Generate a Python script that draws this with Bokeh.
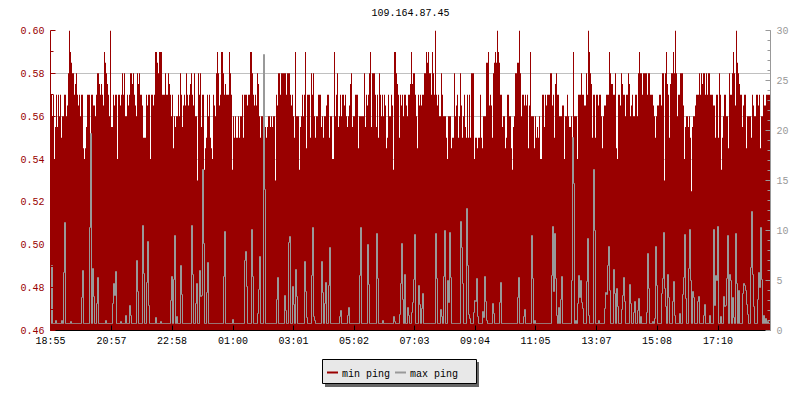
from datetime import datetime, timedelta
from bokeh.plotting import figure
from bokeh.layouts import column
from bokeh.models import (ColumnDataSource, Range1d, LinearAxis, FixedTicker,
                          DatetimeTickFormatter, PrintfTickFormatter)
from bokeh.core.properties import value
from bokeh.embed import file_html
from bokeh.resources import INLINE

chart_title = "109.164.87.45"
first_sample = "2013-06-01 18:55"
sample_step_minutes = 2
tick_labels = ["18:55", "20:57", "22:58", "01:00", "03:01", "05:02",
               "07:03", "09:04", "11:05", "13:07", "15:08", "17:10"]
left_ticks = [0.46, 0.48, 0.50, 0.52, 0.54, 0.56, 0.58, 0.60]
right_ticks = [0, 5, 10, 15, 20, 25, 30]
series_names = ["min ping", "max ping"]

# min ping (ms, left axis), one value per 2-minute sample
min_ping_a = [
    0.57, 0.57, 0.56, 0.57, 0.54, 0.555, 0.57, 0.555, 0.57, 0.56,
    0.57, 0.55, 0.56, 0.56, 0.57, 0.57, 0.56, 0.565, 0.58, 0.60,
    0.59, 0.585, 0.58, 0.58, 0.57, 0.575, 0.58, 0.57, 0.565, 0.57,
    0.56, 0.57, 0.57, 0.545, 0.54, 0.545, 0.555, 0.57, 0.57, 0.57,
    0.55, 0.57, 0.57, 0.565, 0.565, 0.56, 0.57, 0.58, 0.58, 0.575,
    0.57, 0.575, 0.57, 0.565, 0.59, 0.585, 0.58, 0.575, 0.57, 0.56,
    0.60, 0.555, 0.555, 0.57, 0.565, 0.57, 0.57, 0.54, 0.57, 0.57,
    0.565, 0.57, 0.58, 0.57, 0.58, 0.56, 0.56, 0.57, 0.565, 0.57,
    0.58, 0.58, 0.575, 0.58, 0.57, 0.565, 0.56, 0.58, 0.575, 0.58,
    0.57, 0.57, 0.565, 0.55, 0.55, 0.55, 0.57, 0.565, 0.57, 0.57,
    0.54, 0.57, 0.57, 0.565, 0.57, 0.59, 0.59, 0.585, 0.58, 0.59,
    0.59, 0.59, 0.57, 0.57, 0.57, 0.58, 0.57, 0.57, 0.58, 0.575,
]
min_ping_b = [
    0.57, 0.56, 0.57, 0.545, 0.56, 0.555, 0.56, 0.56, 0.57, 0.56,
    0.58, 0.57, 0.555, 0.565, 0.57, 0.565, 0.58, 0.57, 0.565, 0.57,
    0.575, 0.58, 0.57, 0.565, 0.58, 0.56, 0.56, 0.53, 0.58, 0.57,
    0.58, 0.555, 0.57, 0.57, 0.535, 0.545, 0.55, 0.57, 0.56, 0.57,
    0.55, 0.545, 0.54, 0.57, 0.565, 0.56, 0.58, 0.59, 0.58, 0.565,
    0.57, 0.59, 0.59, 0.58, 0.57, 0.575, 0.57, 0.57, 0.57, 0.59,
    0.58, 0.57, 0.535, 0.56, 0.55, 0.56, 0.55, 0.55, 0.56, 0.55,
    0.56, 0.56, 0.57, 0.55, 0.57, 0.57, 0.57, 0.565, 0.57, 0.57,
    0.59, 0.59, 0.58, 0.57, 0.565, 0.57, 0.565, 0.58, 0.575, 0.56,
    0.55, 0.56, 0.56, 0.55, 0.56, 0.555, 0.55, 0.555, 0.56, 0.56,
    0.555, 0.56, 0.555, 0.56, 0.56, 0.53, 0.57, 0.565, 0.58, 0.58,
    0.57, 0.58, 0.58, 0.58, 0.58, 0.58, 0.57, 0.58, 0.58, 0.58,
]
min_ping_c = [
    0.57, 0.565, 0.57, 0.56, 0.55, 0.59, 0.56, 0.56, 0.56, 0.535,
    0.555, 0.56, 0.57, 0.56, 0.57, 0.59, 0.545, 0.57, 0.57, 0.57,
    0.55, 0.58, 0.57, 0.58, 0.56, 0.55, 0.56, 0.56, 0.57, 0.57,
    0.57, 0.555, 0.56, 0.55, 0.56, 0.56, 0.565, 0.57, 0.57, 0.55,
    0.56, 0.56, 0.54, 0.54, 0.59, 0.56, 0.57, 0.58, 0.555, 0.56,
    0.57, 0.56, 0.57, 0.57, 0.565, 0.57, 0.56, 0.555, 0.56, 0.565,
    0.575, 0.58, 0.555, 0.56, 0.56, 0.57, 0.57, 0.57, 0.545, 0.56,
    0.56, 0.56, 0.56, 0.56, 0.58, 0.555, 0.57, 0.565, 0.57, 0.58,
    0.59, 0.555, 0.58, 0.58, 0.58, 0.57, 0.555, 0.57, 0.55, 0.58,
    0.57, 0.56, 0.57, 0.56, 0.57, 0.565, 0.545, 0.55, 0.57, 0.56,
    0.56, 0.57, 0.565, 0.535, 0.59, 0.59, 0.58, 0.575, 0.57, 0.55,
    0.57, 0.565, 0.57, 0.56, 0.57, 0.57, 0.565, 0.56, 0.57, 0.57,
]
min_ping_d = [
    0.575, 0.59, 0.575, 0.58, 0.58, 0.57, 0.56, 0.545, 0.57, 0.565,
    0.57, 0.565, 0.57, 0.57, 0.58, 0.58, 0.59, 0.585, 0.59, 0.58,
    0.58, 0.57, 0.59, 0.58, 0.57, 0.60, 0.57, 0.565, 0.57, 0.56,
    0.56, 0.58, 0.57, 0.56, 0.56, 0.56, 0.55, 0.54, 0.56, 0.56,
    0.56, 0.545, 0.55, 0.55, 0.58, 0.56, 0.565, 0.57, 0.55, 0.56,
    0.58, 0.565, 0.55, 0.56, 0.57, 0.555, 0.55, 0.57, 0.55, 0.57,
    0.55, 0.58, 0.58, 0.58, 0.54, 0.55, 0.55, 0.545, 0.55, 0.55,
    0.57, 0.55, 0.545, 0.56, 0.56, 0.56, 0.585, 0.585, 0.59, 0.565,
    0.57, 0.565, 0.55, 0.58, 0.585, 0.59, 0.585, 0.60, 0.59, 0.585,
    0.57, 0.57, 0.555, 0.56, 0.56, 0.545, 0.55, 0.57, 0.57, 0.56,
    0.56, 0.545, 0.535, 0.555, 0.56, 0.58, 0.58, 0.585, 0.585, 0.60,
    0.58, 0.56, 0.57, 0.57, 0.565, 0.57, 0.565, 0.57, 0.545, 0.565,
]
min_ping_e = [
    0.59, 0.56, 0.56, 0.56, 0.545, 0.56, 0.55, 0.555, 0.55, 0.56,
    0.54, 0.54, 0.57, 0.57, 0.555, 0.57, 0.565, 0.57, 0.57, 0.57,
    0.58, 0.58, 0.565, 0.57, 0.55, 0.575, 0.58, 0.57, 0.57, 0.56,
    0.56, 0.56, 0.565, 0.565, 0.54, 0.56, 0.56, 0.57, 0.56, 0.555,
    0.555, 0.56, 0.55, 0.59, 0.56, 0.56, 0.56, 0.54, 0.57, 0.57,
    0.57, 0.58, 0.57, 0.57, 0.565, 0.565, 0.58, 0.57, 0.60, 0.59,
    0.58, 0.575, 0.55, 0.57, 0.57, 0.55, 0.57, 0.57, 0.565, 0.57,
    0.57, 0.56, 0.545, 0.56, 0.565, 0.565, 0.57, 0.57, 0.57, 0.59,
    0.58, 0.575, 0.575, 0.57, 0.57, 0.58, 0.545, 0.54, 0.57, 0.57,
    0.565, 0.58, 0.575, 0.57, 0.57, 0.56, 0.57, 0.57, 0.58, 0.575,
    0.56, 0.565, 0.57, 0.56, 0.56, 0.57, 0.57, 0.56, 0.58, 0.59,
    0.58, 0.58, 0.57, 0.58, 0.58, 0.58, 0.58, 0.57, 0.58, 0.58,
]
min_ping_f = [
    0.57, 0.57, 0.57, 0.565, 0.56, 0.55, 0.56, 0.565, 0.565, 0.57,
    0.57, 0.565, 0.58, 0.58, 0.53, 0.58, 0.59, 0.575, 0.57, 0.55,
    0.575, 0.58, 0.58, 0.59, 0.58, 0.60, 0.58, 0.56, 0.57, 0.57,
    0.58, 0.58, 0.58, 0.565, 0.54, 0.555, 0.56, 0.56, 0.555, 0.56,
    0.55, 0.525, 0.555, 0.56, 0.56, 0.565, 0.57, 0.57, 0.57, 0.58,
    0.57, 0.58, 0.575, 0.58, 0.58, 0.57, 0.58, 0.57, 0.58, 0.58,
    0.57, 0.57, 0.57, 0.565, 0.565, 0.55, 0.57, 0.57, 0.55, 0.58,
    0.57, 0.535, 0.55, 0.56, 0.57, 0.57, 0.56, 0.56, 0.545, 0.58,
    0.57, 0.57, 0.58, 0.59, 0.58, 0.565, 0.60, 0.585, 0.58, 0.575,
    0.57, 0.57, 0.555, 0.565, 0.57, 0.57, 0.545, 0.56, 0.56, 0.56,
    0.56, 0.55, 0.57, 0.565, 0.56, 0.56, 0.57, 0.57, 0.565, 0.57,
    0.545, 0.56, 0.56, 0.57, 0.565, 0.565, 0.57, 0.57, 0.57, 0.57,
]

# max ping (ms, right axis)
max_ping_a = [
    0.7, 6.5, 0.7, 0.7, 0.7, 1.0, 0.7, 0.7, 0.7, 0.7,
    0.7, 1.0, 0.7, 5.8, 10.8, 0.7, 0.7, 0.7, 0.7, 0.7,
    0.9, 0.7, 0.7, 0.7, 0.7, 0.7, 0.7, 0.7, 0.7, 0.7,
    0.7, 3.3, 6.0, 0.7, 0.7, 0.7, 0.7, 0.7, 0.7, 10.3,
    19.7, 0.7, 6.2, 3.4, 0.7, 0.7, 2.7, 5.3, 0.7, 0.7,
    0.7, 0.7, 0.7, 0.7, 0.7, 1.0, 0.7, 0.7, 0.7, 0.7,
    0.7, 0.7, 2.7, 4.7, 3.5, 5.9, 0.7, 0.7, 0.7, 0.7,
    0.9, 0.7, 0.7, 0.7, 0.7, 1.5, 0.7, 0.7, 0.7, 2.5,
    1.5, 0.7, 0.7, 0.7, 0.7, 0.7, 7.0, 3.9, 0.7, 0.7,
    0.7, 0.7, 10.5, 5.7, 0.7, 0.7, 4.8, 8.9, 2.5, 0.7,
    0.7, 0.7, 0.7, 0.7, 0.7, 1.3, 0.7, 0.7, 0.7, 0.7,
    0.9, 0.7, 0.7, 0.7, 0.7, 0.7, 0.7, 0.7, 0.7, 0.7,
]
max_ping_b = [
    3.0, 5.4, 0.7, 5.1, 9.5, 0.7, 1.4, 0.7, 0.7, 0.7,
    6.5, 3.6, 0.7, 0.7, 0.7, 0.7, 0.7, 0.7, 0.7, 0.7,
    0.7, 10.5, 5.6, 0.7, 0.7, 2.7, 4.7, 0.7, 0.7, 6.0,
    3.4, 3.5, 16.1, 8.7, 0.7, 0.7, 3.8, 6.8, 0.7, 0.7,
    0.7, 0.7, 0.7, 0.7, 0.7, 0.7, 0.7, 0.7, 0.7, 0.7,
    0.7, 0.7, 0.7, 5.4, 9.9, 0.7, 0.7, 0.7, 0.7, 0.7,
    0.7, 0.7, 1.1, 0.7, 0.7, 0.7, 0.7, 0.7, 0.7, 0.7,
    0.7, 0.7, 0.7, 0.7, 7.0, 7.9, 4.4, 0.7, 0.7, 0.7,
    0.7, 10.1, 5.4, 0.7, 0.7, 0.7, 0.7, 1.7, 4.1, 7.4,
    0.7, 0.7, 0.7, 27.6, 14.1, 0.7, 0.7, 0.7, 0.7, 0.7,
    0.7, 0.7, 0.7, 0.7, 0.7, 0.7, 3.1, 5.3, 0.7, 0.7,
    0.7, 0.7, 0.7, 0.7, 3.5, 2.0, 0.7, 0.7, 8.8, 9.4,
]
max_ping_c = [
    0.7, 0.7, 4.4, 2.6, 0.7, 6.1, 3.4, 0.7, 0.7, 0.7,
    0.7, 0.7, 0.7, 0.7, 6.9, 3.9, 1.3, 0.7, 0.7, 0.7,
    0.7, 5.5, 10.3, 1.4, 1.0, 0.7, 0.7, 0.7, 0.7, 0.7,
    0.7, 6.9, 3.8, 0.7, 2.7, 4.8, 0.7, 0.7, 4.5, 8.3,
    0.7, 0.7, 0.7, 0.7, 0.7, 0.7, 0.7, 0.7, 0.7, 1.4,
    2.0, 0.7, 0.7, 0.7, 0.7, 0.7, 0.7, 1.5, 2.3, 0.7,
    0.7, 0.7, 0.7, 0.7, 0.7, 0.7, 0.7, 0.7, 0.7, 5.5,
    10.3, 0.7, 0.7, 0.7, 0.7, 0.7, 0.7, 8.6, 4.6, 0.7,
    0.7, 0.7, 0.7, 0.7, 0.7, 0.7, 9.7, 5.2, 0.7, 0.7,
    0.7, 0.7, 1.0, 0.7, 0.7, 0.7, 0.7, 0.7, 0.7, 0.7,
    0.7, 0.7, 0.7, 1.4, 0.9, 0.7, 0.7, 0.7, 0.7, 1.6,
    4.7, 8.7, 3.1, 0.7, 5.6, 0.7, 0.7, 2.3, 1.5, 0.7,
]
max_ping_d = [
    0.7, 1.8, 2.8, 5.1, 9.6, 0.7, 0.7, 0.7, 4.5, 2.6,
    0.7, 2.2, 3.7, 0.7, 0.7, 0.7, 0.7, 0.7, 0.7, 0.7,
    0.7, 0.7, 0.7, 0.7, 0.7, 9.7, 5.2, 0.7, 0.7, 0.7,
    2.1, 1.4, 0.7, 5.4, 10.0, 0.7, 0.7, 5.0, 2.8, 9.8,
    5.3, 0.7, 0.7, 0.7, 0.7, 0.7, 0.7, 0.7, 0.7, 0.7,
    10.9, 8.3, 4.7, 0.7, 0.7, 0.7, 12.2, 6.5, 1.6, 1.2,
    0.7, 0.7, 0.7, 1.8, 3.0, 2.9, 5.2, 1.4, 0.7, 0.7,
    0.7, 0.7, 1.9, 1.3, 5.4, 2.9, 1.0, 0.7, 0.7, 0.7,
    0.7, 0.7, 2.7, 1.7, 0.7, 0.7, 0.7, 0.7, 0.7, 2.8,
    4.8, 0.7, 0.7, 0.7, 0.7, 0.7, 0.7, 0.7, 0.7, 0.7,
    0.7, 0.7, 0.7, 0.7, 0.7, 0.7, 0.7, 3.3, 5.3, 0.7,
    0.7, 0.7, 0.7, 1.4, 2.1, 0.7, 0.7, 0.7, 0.7, 0.7,
]
max_ping_e = [
    0.7, 9.5, 5.2, 0.7, 1.0, 0.7, 0.7, 0.7, 0.7, 0.7,
    0.7, 0.7, 0.7, 0.7, 0.7, 0.7, 0.7, 0.7, 0.7, 0.7,
    0.7, 5.5, 10.4, 3.9, 9.7, 5.2, 1.5, 0.7, 2.3, 0.7,
    3.1, 5.4, 0.7, 0.7, 0.7, 0.7, 0.7, 0.7, 0.7, 0.7,
    0.7, 5.0, 19.3, 14.7, 0.7, 1.0, 0.7, 2.7, 5.5, 3.3,
    5.0, 2.8, 2.2, 0.7, 0.7, 0.7, 4.9, 9.2, 1.5, 0.7,
    0.7, 0.7, 0.7, 16.1, 10.0, 0.7, 0.7, 0.7, 1.0, 0.7,
    0.7, 0.7, 0.7, 0.7, 2.2, 3.8, 3.6, 6.5, 8.4, 4.0,
    0.7, 0.7, 0.7, 6.1, 3.7, 0.7, 4.2, 2.4, 0.7, 0.7,
    0.7, 2.1, 3.5, 5.3, 2.9, 0.7, 0.7, 0.7, 0.7, 4.6,
    2.7, 0.7, 0.7, 1.8, 2.9, 0.7, 0.7, 2.0, 3.2, 0.7,
    1.4, 0.7, 0.7, 0.7, 0.7, 0.7, 1.8, 7.7, 4.2, 0.7,
]
max_ping_f = [
    0.7, 0.7, 0.9, 0.7, 1.2, 8.4, 4.5, 0.7, 0.7, 0.7,
    0.7, 3.7, 5.2, 9.8, 4.2, 2.4, 0.7, 5.6, 3.3, 0.7,
    0.7, 0.7, 2.9, 4.9, 1.5, 0.7, 0.7, 0.7, 0.7, 1.7,
    0.7, 0.7, 3.6, 5.3, 9.6, 3.2, 0.7, 0.7, 6.2, 10.1,
    5.0, 0.7, 3.9, 3.3, 0.7, 0.7, 0.7, 2.9, 3.4, 0.7,
    0.7, 0.7, 0.7, 1.5, 2.6, 0.7, 0.7, 0.7, 0.7, 1.5,
    0.7, 0.7, 0.7, 10.1, 2.5, 5.5, 5.0, 10.4, 0.7, 0.7,
    1.4, 0.7, 0.7, 3.4, 2.4, 2.5, 5.2, 9.5, 0.7, 5.6,
    5.0, 0.7, 3.3, 1.3, 0.7, 9.7, 4.7, 0.7, 4.0, 0.7,
    0.7, 0.7, 3.7, 4.7, 4.5, 4.0, 2.6, 1.6, 0.7, 0.7,
    6.3, 11.9, 5.6, 2.4, 0.7, 0.7, 0.7, 3.1, 5.8, 4.3,
    10.3, 5.1, 0.7, 1.5, 0.7, 1.2, 0.7, 0.9, 0.7, 0.7,
]

min_ping = min_ping_a + min_ping_b + min_ping_c + min_ping_d + min_ping_e + min_ping_f
max_ping = max_ping_a + max_ping_b + max_ping_c + max_ping_d + max_ping_e + max_ping_f

FONT = "Liberation Mono"
RED = "#990000"
GREY = "#999999"
# half a sample: aligns the filled steps with whole screen pixels
PIXEL_ALIGN = timedelta(minutes=sample_step_minutes / 2)

t0 = datetime.strptime(first_sample, "%Y-%m-%d %H:%M")
n = len(min_ping)
times = [t0 + timedelta(minutes=sample_step_minutes * i) for i in range(n + 1)]
t_end = times[-1]
src = ColumnDataSource(dict(t=times,
                            t_fill=[t - PIXEL_ALIGN for t in times],
                            min_ping=min_ping + [min_ping[-1]],
                            max_ping=max_ping + [max_ping[-1]]))

epoch = datetime(1970, 1, 1)
tick_ms = []
for lab in tick_labels:
    h, m = map(int, lab.split(":"))
    t = t0.replace(hour=h, minute=m)
    if t < t0:
        t += timedelta(days=1)
    tick_ms.append((t - epoch).total_seconds() * 1000.0)

left_minor = [round((a + b) / 2, 3) for a, b in zip(left_ticks[:-1], left_ticks[1:])]
right_minor = list(range(right_ticks[0], right_ticks[-1] + 1))


def strip(height, y_top):
    """A plain canvas whose data units equal page pixels (for title / legend)."""
    f = figure(frame_width=720, frame_height=height,
               x_range=Range1d(50, 770), y_range=Range1d(y_top + height, y_top),
               output_backend="svg", toolbar_location=None,
               x_axis_location=None, y_axis_location=None,
               min_border_left=50, min_border_right=30,
               min_border_top=0, min_border_bottom=0)
    f.outline_line_color = None
    f.xgrid.visible = False
    f.ygrid.visible = False
    f.background_fill_color = "white"
    f.border_fill_color = "white"
    return f


# title strip
top = strip(24, 0)
top.text(x=[410], y=[12], text=[chart_title], text_font=value(FONT),
         text_font_size="10px", text_color="black",
         text_align="center", text_baseline="middle")

p = figure(frame_width=720, frame_height=300, x_axis_type="datetime",
           x_range=Range1d(t0, t_end), y_range=Range1d(left_ticks[0], left_ticks[-1]),
           output_backend="svg", toolbar_location=None,
           min_border_left=50, min_border_right=30, min_border_top=6, min_border_bottom=25)
p.extra_y_ranges = {"ms": Range1d(right_ticks[0], right_ticks[-1])}
p.outline_line_color = None
p.background_fill_color = "white"
p.border_fill_color = "white"

p.varea_step(x="t_fill", y1=left_ticks[0], y2="min_ping", step_mode="after",
             source=src, fill_color=RED)
p.step(x="t", y="max_ping", mode="after", source=src, y_range_name="ms",
       line_color=GREY, line_width=1)

# x axis
xa = p.xaxis[0]
xa.ticker = FixedTicker(ticks=tick_ms)
xa.formatter = DatetimeTickFormatter(minutes="%H:%M", hourmin="%H:%M", hours="%H:%M",
                                     days="%H:%M", minsec="%H:%M", seconds="%H:%M")
xa.major_tick_in = 5
xa.major_tick_out = 0
xa.minor_tick_line_color = None
xa.axis_line_color = "black"
xa.major_tick_line_color = "black"
xa.major_label_text_font = FONT
xa.major_label_text_font_size = "10px"
xa.major_label_text_color = "black"
xa.major_label_standoff = 5

# left axis
ya = p.yaxis[0]
ya.ticker = FixedTicker(ticks=left_ticks, minor_ticks=left_minor)
ya.formatter = PrintfTickFormatter(format="%.2f")
ya.major_tick_in = 5
ya.major_tick_out = 0
ya.minor_tick_in = 3
ya.minor_tick_out = 0
ya.axis_line_color = RED
ya.major_tick_line_color = RED
ya.minor_tick_line_color = RED
ya.major_label_text_color = RED
ya.major_label_text_font = FONT
ya.major_label_text_font_size = "10px"
ya.major_label_standoff = 6

# right axis
ra = LinearAxis(y_range_name="ms",
                ticker=FixedTicker(ticks=right_ticks, minor_ticks=right_minor))
ra.major_tick_in = 5
ra.major_tick_out = 0
ra.minor_tick_in = 3
ra.minor_tick_out = 0
ra.axis_line_color = GREY
ra.major_tick_line_color = GREY
ra.minor_tick_line_color = GREY
ra.major_label_text_color = GREY
ra.major_label_text_font = FONT
ra.major_label_text_font_size = "10px"
ra.major_label_standoff = 6
p.add_layout(ra, "right")

p.xgrid.visible = False
p.ygrid.ticker = FixedTicker(ticks=left_ticks)
p.ygrid.grid_line_color = "#c0c0c0"

# legend strip below the chart
leg = strip(45, 355)
leg.quad(left=[324.5], right=[478.5], top=[361.5], bottom=[386.5],
         fill_color="#666666", line_color=None)
leg.quad(left=[322], right=[476], top=[359], bottom=[383],
         fill_color="#e8e8e8", line_color="black", line_width=1)
leg.segment(x0=[326.5, 394.5], y0=[372, 372], x1=[337.5, 405.5], y1=[372, 372],
            line_color=[RED, GREY], line_width=2)
leg.text(x=[341.5, 409.5], y=[374, 374], text=series_names,
         text_font=value(FONT), text_font_size="10px", text_color="black",
         text_align="left", text_baseline="alphabetic")

layout = column(top, p, leg, spacing=0)
open("out.html", "w").write(file_html(layout, INLINE))
